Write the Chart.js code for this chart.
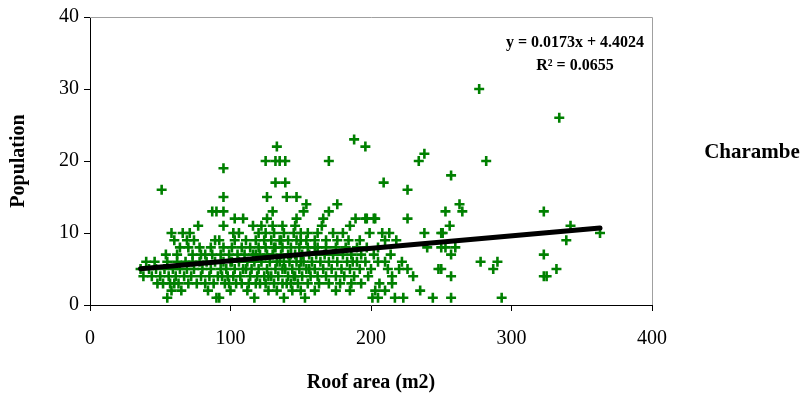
<!DOCTYPE html>
<html>
<head>
<meta charset="utf-8">
<script src="https://cdn.jsdelivr.net/npm/chart.js@4.4.1/dist/chart.umd.min.js"></script>
<style>
html,body{margin:0;padding:0;background:#fff;}
#wrap{width:806px;height:398px;}
</style>
</head>
<body>
<div id="wrap"><canvas id="c" width="806" height="398"></canvas></div>
<script>
// ---- data ----
const roofArea = [
  55, 90, 92, 117, 138, 153, 201, 205, 217, 223, 244, 257, 293,
  58, 65, 84, 100, 112, 127, 133, 144, 150, 160, 175, 185, 203, 210, 235,
  48, 52, 57, 60, 63, 70, 76, 82, 88, 96, 99, 104, 108, 113, 118, 121, 125, 131, 137, 140, 143, 148, 155, 163, 170, 178, 186, 193, 206, 215,
  38, 44, 50, 56, 61, 67, 72, 79, 85, 91, 94, 98, 102, 107, 114, 119, 124, 127, 129, 134, 141, 145, 146, 151, 157, 162, 168, 175, 181, 188, 198, 215, 230, 257, 323, 325,
  36, 42, 47, 53, 59, 64, 69, 74, 80, 86, 93, 97, 103, 109, 111, 115, 120, 126, 132, 137, 139, 144, 149, 154, 156, 160, 166, 172, 179, 185, 192, 200, 212, 220, 226, 248, 250, 287, 332,
  40, 46, 55, 62, 68, 73, 78, 83, 89, 95, 100, 101, 106, 112, 117, 122, 128, 133, 135, 138, 142, 147, 150, 152, 158, 164, 170, 176, 183, 187, 190, 196, 205, 210, 222, 278, 290,
  54, 62, 73, 79, 82, 87, 93, 99, 105, 110, 116, 118, 121, 126, 130, 136, 141, 143, 146, 151, 156, 161, 167, 173, 180, 186, 193, 202, 214, 257, 323,
  64, 70, 78, 86, 95, 101, 108, 114, 120, 125, 131, 132, 137, 143, 149, 155, 160, 162, 168, 175, 182, 190, 197, 205, 240, 250, 253, 260,
  60, 69, 74, 89, 92, 103, 111, 118, 124, 129, 135, 136, 141, 147, 150, 154, 160, 168, 176, 184, 192, 210, 218, 339,
  58, 66, 71, 102, 106, 120, 125, 131, 138, 145, 150, 155, 162, 173, 180, 199, 208, 213, 238, 250, 251, 363,
  77, 95, 116, 122, 130, 137, 146, 165, 185, 256, 342,
  103, 109, 126, 147, 166, 189, 196, 197, 202, 203, 226,
  87, 90, 95, 130, 152, 170, 253, 265, 323,
  154, 176, 263,
  95, 126, 140, 147,
  51, 226,
  132, 139, 209,
  257,
  95,
  125, 132, 135, 139, 170, 234, 282,
  238,
  133, 196,
  188,
  334,
  277
];
const population = [
  1,1,1,1,1,1,1,1,1,1,1,1,1,
  2,2,2,2,2,2,2,2,2,2,2,2,2,2,2,
  3,3,3,3,3,3,3,3,3,3,3,3,3,3,3,3,3,3,3,3,3,3,3,3,3,3,3,3,3,3,
  4,4,4,4,4,4,4,4,4,4,4,4,4,4,4,4,4,4,4,4,4,4,4,4,4,4,4,4,4,4,4,4,4,4,4,4,
  5,5,5,5,5,5,5,5,5,5,5,5,5,5,5,5,5,5,5,5,5,5,5,5,5,5,5,5,5,5,5,5,5,5,5,5,5,5,5,
  6,6,6,6,6,6,6,6,6,6,6,6,6,6,6,6,6,6,6,6,6,6,6,6,6,6,6,6,6,6,6,6,6,6,6,6,6,
  7,7,7,7,7,7,7,7,7,7,7,7,7,7,7,7,7,7,7,7,7,7,7,7,7,7,7,7,7,7,7,
  8,8,8,8,8,8,8,8,8,8,8,8,8,8,8,8,8,8,8,8,8,8,8,8,8,8,8,8,
  9,9,9,9,9,9,9,9,9,9,9,9,9,9,9,9,9,9,9,9,9,9,9,9,
  10,10,10,10,10,10,10,10,10,10,10,10,10,10,10,10,10,10,10,10,10,10,
  11,11,11,11,11,11,11,11,11,11,11,
  12,12,12,12,12,12,12,12,12,12,12,
  13,13,13,13,13,13,13,13,13,
  14,14,14,
  15,15,15,15,
  16,16,
  17,17,17,
  18,
  19,
  20,20,20,20,20,20,20,
  21,
  22,22,
  23,
  26,
  30
];
const seriesName = 'Charambe';
const trendSlope = 0.0173;
const trendIntercept = 4.4024;
const trendR2 = 0.0655;
const xTicks = [0, 100, 200, 300, 400];
const yTicks = [0, 10, 20, 30, 40];

// ---- build ----
const points = roofArea.map((x, i) => ({x: x, y: population[i]}));
const xMin = Math.min(...roofArea), xMax = Math.max(...roofArea);
const trend = [xMin, xMax].map(x => ({x: x, y: trendSlope * x + trendIntercept}));

const FONT = '"Liberation Serif", "Times New Roman", serif';

const overlay = {
  id: 'overlay',
  beforeDatasetsDraw(chart) {
    const {ctx, chartArea: a} = chart;
    ctx.save();
    ctx.strokeStyle = '#a0a0a0';
    ctx.lineWidth = 1;
    ctx.beginPath();
    ctx.moveTo(a.left, a.top + 0.5);
    ctx.lineTo(a.right + 0.5, a.top + 0.5);
    ctx.lineTo(a.right + 0.5, a.bottom);
    ctx.stroke();
    ctx.restore();
  },
  afterDraw(chart) {
    const {ctx} = chart;
    ctx.save();
    ctx.fillStyle = '#000';
    ctx.textAlign = 'center';
    ctx.textBaseline = 'alphabetic';
    ctx.font = 'bold 16px ' + FONT;
    ctx.fillText('y = ' + trendSlope.toFixed(4) + 'x + ' + trendIntercept.toFixed(4), 575, 47);
    ctx.fillText('R\u00B2 = ' + trendR2.toFixed(4), 575, 70);
    ctx.font = 'bold 21px ' + FONT;
    ctx.textBaseline = 'middle';
    ctx.fillText(seriesName, 752, 153);
    ctx.restore();
  }
};

new Chart(document.getElementById('c'), {
  type: 'scatter',
  data: {
    datasets: [
      {
        label: 'Linear (' + seriesName + ')',
        type: 'line',
        data: trend,
        borderColor: '#000',
        borderWidth: 5,
        borderCapStyle: 'round',
        pointRadius: 0,
        fill: false,
        order: 0
      },
      {
        label: seriesName,
        data: points,
        pointStyle: 'cross',
        pointRadius: 5,
        pointBorderWidth: 2.6,
        borderColor: '#008000',
        backgroundColor: '#008000',
        order: 1
      }
    ]
  },
  options: {
    responsive: false,
    animation: false,
    devicePixelRatio: 1,
    layout: {padding: {left: 0, right: 154, top: 16, bottom: 0}},
    plugins: {legend: {display: false}, tooltip: {enabled: false}},
    scales: {
      x: {
        type: 'linear',
        min: xTicks[0], max: xTicks[xTicks.length - 1],
        afterBuildTicks: s => { s.ticks = xTicks.map(v => ({value: v})); },
        afterFit: s => { s.height = 93; },
        grid: {drawOnChartArea: false, drawTicks: true, tickLength: 6, color: '#000'},
        border: {display: true, color: '#000', width: 1},
        ticks: {color: '#000', font: {family: FONT, size: 20}, padding: 16, maxRotation: 0},
        title: {display: true, text: 'Roof area (m2)', color: '#000', font: {family: FONT, size: 20, weight: 'bold'}, padding: {top: 0, bottom: 3}}
      },
      y: {
        type: 'linear',
        min: yTicks[0], max: yTicks[yTicks.length - 1],
        afterBuildTicks: s => { s.ticks = yTicks.map(v => ({value: v})); },
        afterFit: s => { s.width = 90; },
        grid: {drawOnChartArea: false, drawTicks: true, tickLength: 6, color: '#000'},
        border: {display: true, color: '#000', width: 1},
        ticks: {color: '#000', font: {family: FONT, size: 20}, padding: 5},
        title: {display: true, text: 'Population', color: '#000', font: {family: FONT, size: 20, weight: 'bold'}, padding: {top: 7, bottom: 0}}
      }
    }
  },
  plugins: [overlay]
});
</script>
</body>
</html>
